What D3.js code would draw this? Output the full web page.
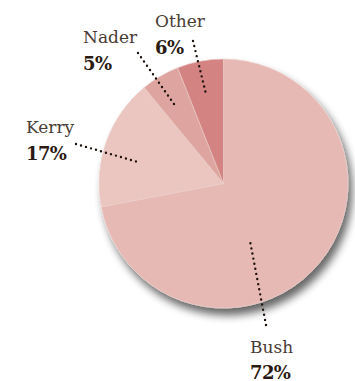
<!DOCTYPE html>
<html>
<head>
<meta charset="utf-8">
<script src="https://cdn.jsdelivr.net/npm/d3@7"></script>
<style>
  html, body { margin: 0; padding: 0; background: #ffffff; }
  svg { display: block; }
  .name { font-family: "DejaVu Serif", "Liberation Serif", serif; font-weight: 300; fill: #4a3b36; }
  .pct { font-family: "DejaVu Serif", "Liberation Serif", serif; font-weight: 700; fill: #2b1a12; }
</style>
</head>
<body>
<svg id="chart" width="355" height="381"></svg>
<script>
// 2004 popular vote share
const candidates = ["Bush", "Kerry", "Nader", "Other"];
const shares = [72, 17, 5, 6];
const shareLabels = ["72%", "17%", "5%", "6%"];
const sliceColors = ["#e6b9b5", "#ebc6c1", "#dea49f", "#d38382"];

// label anchor (x, baseline y) and leader endpoints, per candidate
const labelPos = [[250, 352.5], [26, 133], [83, 43], [155, 27]];
const leaderFrom = [[266, 325], [76, 144], [138, 53], [193, 41]];
const leaderTo = [[250, 241], [138, 162], [174, 104], [206, 94]];

const svg = d3.select("#chart");
const cx = 223.5, cy = 183.5, r = 124.5;

const defs = svg.append("defs");
const filt = defs.append("filter").attr("id", "shadow")
  .attr("x", "-20%").attr("y", "-20%").attr("width", "140%").attr("height", "140%");
filt.append("feGaussianBlur").attr("in", "SourceAlpha").attr("stdDeviation", 4.5).attr("result", "b");
filt.append("feOffset").attr("in", "b").attr("dx", 4).attr("dy", 7).attr("result", "o");
filt.append("feComponentTransfer").attr("in", "o").attr("result", "s")
  .append("feFuncA").attr("type", "linear").attr("slope", 0.6);
const merge = filt.append("feMerge");
merge.append("feMergeNode").attr("in", "s");
merge.append("feMergeNode").attr("in", "SourceGraphic");

const data = candidates.map((c, i) => ({ name: c, value: shares[i], label: shareLabels[i], color: sliceColors[i], i }));

const pie = d3.pie().value(d => d.value).sort(null);
const arc = d3.arc().innerRadius(0).outerRadius(r);

const g = svg.append("g").attr("transform", `translate(${cx},${cy})`);
const pieGroup = g.append("g").attr("filter", "url(#shadow)");
pieGroup.selectAll("path")
  .data(pie(data))
  .join("path")
  .attr("d", arc)
  .attr("fill", d => d.data.color)
  .attr("stroke", "#efd3cf")
  .attr("stroke-width", 0.6);

// dotted leaders
const leaders = svg.append("g");
data.forEach((d, i) => {
  leaders.append("line")
    .attr("x1", leaderFrom[i][0]).attr("y1", leaderFrom[i][1])
    .attr("x2", leaderTo[i][0]).attr("y2", leaderTo[i][1])
    .attr("stroke", "#1e120c")
    .attr("stroke-width", 2.4)
    .attr("stroke-linecap", "round")
    .attr("stroke-dasharray", "0 5.2");
});

// labels
const labels = svg.append("g");
data.forEach((d, i) => {
  labels.append("text").attr("class", "name")
    .attr("x", labelPos[i][0]).attr("y", labelPos[i][1])
    .attr("font-size", 17)
    .text(d.name);
  labels.append("text").attr("class", "pct")
    .attr("x", labelPos[i][0]).attr("y", labelPos[i][1] + 26.5)
    .attr("font-size", 18)
    .attr("letter-spacing", -0.6)
    .text(d.label);
});
</script>
</body>
</html>
